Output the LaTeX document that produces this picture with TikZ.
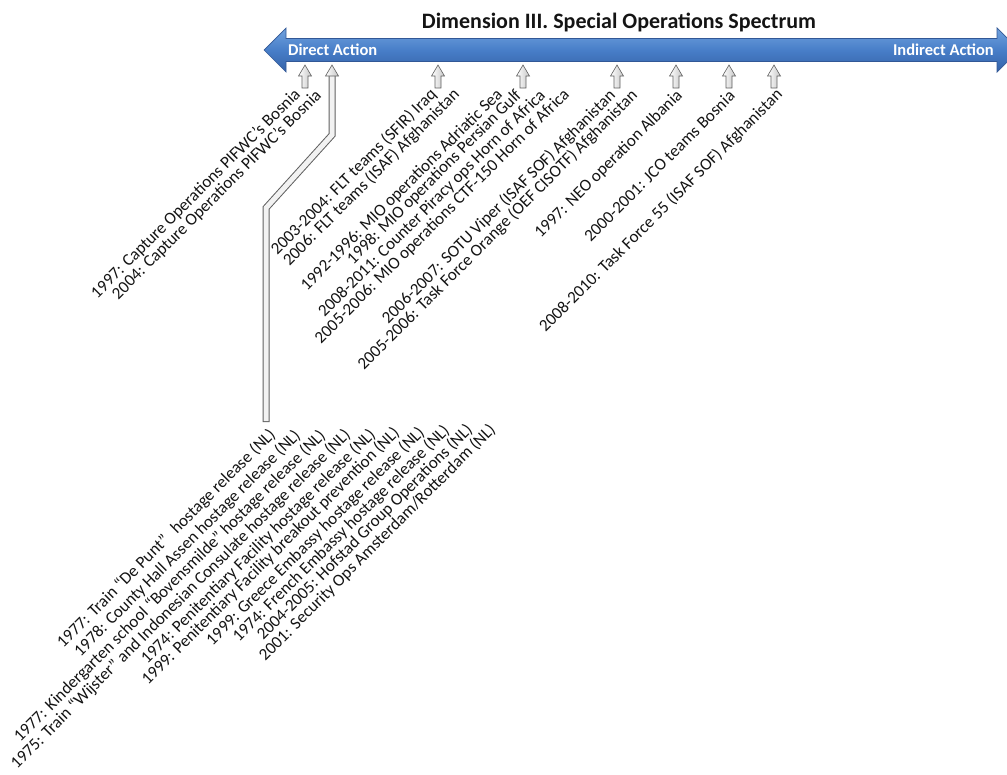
\documentclass[tikz,border=0pt]{standalone}
\usepackage{fontspec}
\setmainfont{Carlito}
\definecolor{arrtop}{RGB}{112,162,222}
\definecolor{arrmid}{RGB}{72,126,200}
\definecolor{arrbot}{RGB}{52,98,168}
\definecolor{arredge}{RGB}{50,88,150}
\definecolor{lbltext}{RGB}{20,20,20}
\newcommand\spectick[1]{%
  \draw[sarrow] (#1,65) -- ++(6.5,11) -- ++(-3.5,0) -- ++(0,12) -- ++(-6,0)
    -- ++(0,-12) -- ++(-3.5,0) -- cycle;}
\begin{document}
\begin{tikzpicture}[x=1pt,y=-1pt,
  lbl/.style={font=\fontsize{17}{20}\selectfont, rotate=45, anchor=east,
    inner sep=0pt, text=lbltext},
  sarrow/.style={draw=gray!75!black, left color=white, right color=gray!45,
    line width=0.6pt, line join=miter},
  endtext/.style={text=white, font=\fontsize{16.5}{18}\bfseries\selectfont, inner sep=0pt}]
\useasboundingbox (0,0) rectangle (1007,774);
\clip (0,0) rectangle (1007,774);

% title
\node[font=\fontsize{22}{26}\bfseries\selectfont, text=lbltext] (title) at (619,22)
  {Dimension III. Special Operations Spectrum};

% double-headed spectrum arrow
\path[draw=arredge, line width=0.7pt, top color=arrtop, bottom color=arrbot, middle color=arrmid]
  (264,50) -- (286,28) -- (286,38.5) -- (997,38.5) -- (997,28) -- (1019,50)
  -- (997,72) -- (997,61.5) -- (286,61.5) -- (286,72) -- cycle;
\node[endtext, anchor=west] (direct) at (288,50) {Direct Action};
\node[endtext, anchor=east] (indirect) at (994,50) {Indirect Action};

% long bent pointer to the lower group
\draw[line width=7pt, gray!75!black, line join=miter]
  (332,76) -- (332,135) -- (266,208) -- (266,422);
\draw[line width=5pt, gray!10, line join=miter]
  (332,75) -- (332,135) -- (266,208) -- (266,421);
\draw[sarrow] (332,65) -- ++(6.5,11) -- ++(-3.5,0) -- ++(-6,0) -- ++(-3.5,0) -- cycle;

% short pointers
\spectick{305}
\spectick{438}
\spectick{523}
\spectick{617}
\spectick{676}
\spectick{729}
\spectick{774}

% labels
\node[lbl] (a1) at (298,92) {1997: Capture Operations PIFWC’s Bosnia};
\node[lbl] (a2) at (319,93) {2004: Capture Operations PIFWC’s Bosnia};

\node[lbl] (b1) at (434,92) {2003-2004: FLT teams (SFIR) Iraq};
\node[lbl] (b2) at (457,92) {2006: FLT teams (ISAF) Afghanistan};

\node[lbl] (c1) at (500,92) {1992-1996: MIO operations Adriatic Sea};
\node[lbl] (c2) at (519,93) {1998: MIO operations Persian Gulf};
\node[lbl] (c3) at (543,93) {2008-2011: Counter Piracy ops Horn of Africa};
\node[lbl] (c4) at (567,92) {2005-2006: MIO operations CTF-150 Horn of Africa};

\node[lbl] (d1) at (613,93) {2006-2007: SOTU Viper (ISAF SOF) Afghanistan};
\node[lbl] (d2) at (635,93) {2005-2006: Task Force Orange (OEF CISOTF) Afghanistan};

\node[lbl] (e1) at (680,93) {1997: NEO operation Albania};
\node[lbl] (f1) at (732,93) {2000-2001: JCO teams Bosnia};
\node[lbl] (g1) at (780,92) {2008-2010: Task Force 55 (ISAF SOF) Afghanistan};

\node[lbl] (h1) at (273,432) {1977: Train “De Punt”\hspace{0.55em}hostage release (NL)};
\node[lbl] (h2) at (298,433) {1978: County Hall Assen hostage release (NL)};
\node[lbl] (h3) at (323,433) {1977: Kindergarten school “Bovensmilde” hostage release (NL)};
\node[lbl] (h4) at (348,432) {1975: Train “Wijster” and Indonesian Consulate hostage release (NL)};
\node[lbl] (h5) at (373,432) {1974: Penitentiary Facility hostage release (NL)};
\node[lbl] (h6) at (397,430) {1999: Penitentiary Facility breakout prevention (NL)};
\node[lbl] (h7) at (422,430) {1999: Greece Embassy hostage release (NL)};
\node[lbl] (h8) at (447,428) {1974: French Embassy hostage release (NL)};
\node[lbl] (h9) at (470,427) {2004-2005: Hofstad Group Operations (NL)};
\node[lbl] (h10) at (493,427) {2001: Security Ops Amsterdam/Rotterdam (NL)};
\end{tikzpicture}
\end{document}
